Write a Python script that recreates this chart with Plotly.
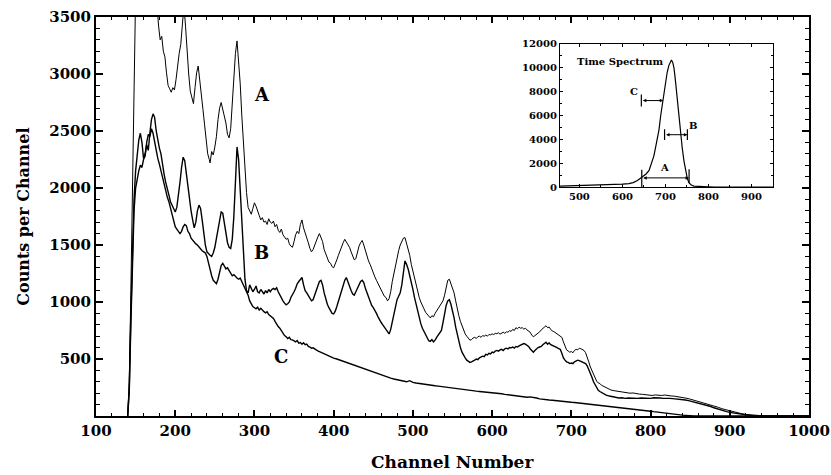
import plotly.graph_objects as go

# ---- spectrum A (channel, counts) ----
a_ch = [140, 142, 144, 146, 148, 150, 155, 165, 174, 177, 179, 181, 183, 185, 187, 189, 191, 193, 195, 197, 199,
        201, 203, 205, 207, 209, 211, 213, 215, 217, 219, 221, 223, 225, 227, 229, 231, 233, 235, 237, 239,
        241, 243, 244, 246, 248, 250, 252, 254, 256, 258, 260, 262, 264, 266, 268, 270, 272, 274, 276, 278,
        280, 282, 284, 286, 288, 290, 292, 294, 296, 298, 300, 302, 304, 306, 308, 310, 312, 314, 316, 318,
        320, 322, 324, 326, 328, 330, 332, 334, 336, 338, 340, 342, 344, 346, 348, 350, 352, 354, 356, 358,
        360, 362, 364, 366, 368, 370, 372, 374, 376, 378, 380, 382, 384, 386, 388, 390, 392, 394, 396, 398,
        400, 402, 404, 406, 408, 410, 412, 414, 416, 418, 420, 422, 424, 426, 428, 430, 432, 434, 436, 438,
        440, 442, 444, 446, 448, 450, 452, 454, 456, 458, 460, 462, 464, 466, 468, 470, 472, 474, 476, 478,
        480, 482, 484, 486, 488, 490, 492, 494, 496, 498, 500, 502, 504, 506, 508, 510, 512, 514, 516, 518,
        520, 522, 524, 526, 528, 530, 532, 534, 536, 538, 540, 542, 544, 546, 548, 550, 552, 554, 556, 558,
        560, 562, 564, 566, 568, 570, 572, 574, 576, 578, 580, 582, 584, 586, 588, 590, 592, 594, 596, 598,
        600, 602, 604, 606, 608, 610, 612, 614, 616, 618, 620, 622, 624, 626, 628, 630, 632, 634, 636, 638,
        640, 642, 644, 646, 648, 650, 652, 654, 656, 658, 660, 662, 664, 666, 668, 670, 672, 674, 676, 678,
        680, 682, 684, 686, 688, 690, 692, 694, 696, 698, 700, 702, 704, 706, 708, 710, 712, 714, 716, 718,
        720, 722, 724, 726, 728, 730, 732, 734, 736, 738, 740, 742, 744, 746, 748, 750, 754, 758, 762, 766,
        770, 774, 778, 782, 786, 790, 794, 798, 802, 806, 810, 814, 818, 822, 826, 830, 834, 838, 842, 846,
        850, 854, 858, 862, 866, 870, 874, 878, 882, 886, 890, 894, 898, 902, 906, 910, 915, 920, 925, 930,
        935, 945, 1000]
a_val = [0, 300, 1100, 2100, 3000, 3700, 4200, 4300, 3900, 3560, 3420, 3300, 3330, 3200, 3150, 3010, 2900, 2870, 2840, 2880, 2860,
         2950, 3080, 3180, 3260, 3420, 3600, 3420, 3150, 3000, 2850, 2780, 2740, 2880, 3010, 3070, 2920, 2800, 2690, 2560, 2400,
         2300, 2250, 2220, 2320, 2290, 2360, 2450, 2600, 2700, 2750, 2690, 2640, 2570, 2470, 2440, 2520, 2760, 2950, 3180, 3290,
         3120, 2920, 2640, 2380, 2140, 1960, 1830, 1800, 1770, 1820, 1870, 1840, 1790, 1760, 1720, 1740, 1700, 1710, 1680, 1730,
         1700, 1690, 1710, 1660, 1680, 1630, 1610, 1640, 1590, 1570, 1550, 1560, 1510, 1490, 1480, 1530, 1590, 1620, 1600, 1680,
         1720, 1650, 1610, 1560, 1520, 1470, 1440, 1460, 1500, 1540, 1570, 1600, 1560, 1530, 1460, 1420, 1380, 1350, 1340, 1310,
         1300, 1330, 1370, 1410, 1450, 1480, 1520, 1550, 1530, 1500, 1480, 1440, 1400, 1370, 1380, 1440, 1490, 1520, 1540, 1500,
         1450, 1420, 1360, 1330, 1290, 1250, 1220, 1190, 1160, 1130, 1100, 1080, 1050, 1040, 1010, 1030, 1090, 1180, 1250, 1330,
         1400, 1450, 1500, 1530, 1560, 1565, 1520, 1470, 1410, 1330, 1270, 1200, 1140, 1090, 1040, 1000, 960, 940, 910, 890,
         870, 860, 880, 870, 900, 920, 940, 960, 980, 1010, 1060, 1120, 1190, 1200, 1160, 1130, 1080, 1010, 930, 880,
         830, 790, 750, 720, 700, 680, 665, 670, 685, 690, 680, 695, 700, 690, 705, 700, 710, 700, 715, 712,
         720, 715, 725, 722, 730, 718, 728, 735, 725, 738, 735, 748, 742, 760, 750, 775, 765, 780, 770, 775,
         762, 770, 755, 748, 735, 710, 695, 705, 715, 730, 738, 755, 770, 780, 792, 775, 780, 760, 745, 740,
         730, 722, 715, 700, 690, 650, 610, 580, 570, 560, 565, 555, 575, 585, 580, 595, 590, 580, 575, 555,
         520, 475, 430, 400, 360, 330, 305, 290, 285, 270, 262, 255, 245, 240, 235, 228, 222, 218, 210, 212,
         205, 200, 202, 195, 192, 190, 186, 184, 180, 185, 182, 180, 184, 178, 176, 174, 170, 168, 160, 155,
         148, 140, 132, 125, 118, 112, 104, 95, 85, 75, 64, 56, 48, 40, 34, 26, 20, 14, 10, 6,
         3, 0, 0]

# ---- spectrum B ----
b_ch = [140, 142, 144, 146, 148, 150, 152, 154, 156, 158, 160, 162, 164, 166, 168, 170, 172, 174, 176, 178,
        180, 182, 184, 186, 188, 190, 192, 194, 196, 198, 200, 202, 204, 206, 208, 210, 212, 214, 216, 218,
        220, 222, 224, 226, 228, 230, 232, 234, 236, 238, 240, 242, 244, 246, 248, 250, 252, 254, 256, 258,
        260, 262, 264, 266, 268, 270, 272, 274, 276, 278, 280, 282, 284, 286, 288, 290, 292, 294, 296, 298,
        300, 302, 304, 306, 308, 310, 312, 314, 316, 318, 320, 322, 324, 326, 328, 330, 332, 334, 336, 338,
        340, 342, 344, 346, 348, 350, 352, 354, 356, 358, 360, 362, 364, 366, 368, 370, 372, 374, 376, 378,
        380, 382, 384, 386, 388, 390, 392, 394, 396, 398, 400, 402, 404, 406, 408, 410, 412, 414, 416, 418,
        420, 422, 424, 426, 428, 430, 432, 434, 436, 438, 440, 442, 444, 446, 448, 450, 452, 454, 456, 458,
        460, 462, 464, 466, 468, 470, 472, 474, 476, 478, 480, 482, 484, 486, 488, 490, 492, 494, 496, 498,
        500, 502, 504, 506, 508, 510, 512, 514, 516, 518, 520, 522, 524, 526, 528, 530, 532, 534, 536, 538,
        540, 542, 544, 546, 548, 550, 552, 554, 556, 558, 560, 562, 564, 566, 568, 570, 572, 574, 576, 578,
        580, 582, 584, 586, 588, 590, 592, 594, 596, 598, 600, 602, 604, 606, 608, 610, 612, 614, 616, 618,
        620, 622, 624, 626, 628, 630, 632, 634, 636, 638, 640, 642, 644, 646, 648, 650, 652, 654, 656, 658,
        660, 662, 664, 666, 668, 670, 672, 674, 676, 678, 680, 682, 684, 686, 688, 690, 692, 694, 696, 698,
        700, 702, 704, 706, 708, 710, 712, 714, 716, 718, 720, 722, 724, 726, 728, 730, 732, 734, 736, 738,
        740, 742, 744, 748, 752, 756, 760, 764, 768, 772, 776, 780, 784, 788, 792, 796, 800, 804, 808, 812,
        816, 820, 824, 828, 832, 836, 840, 844, 848, 852, 856, 860, 864, 868, 872, 876, 880, 884, 888, 892,
        896, 900, 904, 910, 915, 920, 925, 930, 1000]
b_val = [0, 250, 900, 1500, 1900, 2150, 2300, 2420, 2480, 2400, 2260, 2300, 2380, 2330, 2480, 2600, 2650, 2620, 2500, 2420,
         2350, 2300, 2200, 2120, 2050, 1980, 1940, 1880, 1850, 1820, 1790, 1830, 1920, 2050, 2180, 2270, 2240, 2120, 2000, 1890,
         1800, 1720, 1650, 1700, 1800, 1850, 1820, 1720, 1600, 1500, 1440, 1420, 1410, 1400, 1430, 1480, 1560, 1650, 1730, 1790,
         1780, 1700, 1600, 1520, 1480, 1470, 1550, 1750, 2050, 2360, 2250, 2000, 1700, 1400, 1200, 1100, 1080, 1150, 1120, 1090,
         1110, 1140, 1090, 1080, 1110, 1090, 1070, 1100, 1080, 1110, 1090, 1110, 1120, 1110, 1125, 1090, 1060, 1030, 1010, 990,
         975, 985, 1000, 1040, 1060, 1090, 1120, 1160, 1180, 1200, 1215, 1150, 1100, 1080, 1060, 1030, 1010, 1020, 1060, 1100,
         1150, 1180, 1190, 1150, 1080, 1020, 980, 950, 920, 900, 895, 920, 960, 1010, 1060, 1100, 1150, 1190, 1215, 1170,
         1130, 1100, 1070, 1060, 1090, 1120, 1150, 1180, 1190, 1170, 1120, 1080, 1040, 1000, 970, 950, 930, 900, 870, 840,
         820, 800, 780, 760, 740, 720, 760, 830, 900, 960, 1020, 1050, 1080, 1150, 1280, 1360, 1330, 1290, 1230, 1180,
         1110, 1040, 980, 920, 860, 810, 770, 740, 710, 680, 660, 655, 670, 650, 665, 690, 710, 720, 750, 820,
         900, 970, 1010, 1020, 980, 930, 860, 780, 720, 650, 600, 560, 530, 510, 490, 480, 470, 475, 480, 490,
         500, 495, 510, 515, 525, 520, 540, 535, 550, 545, 560, 555, 570, 575, 568, 580, 585, 575, 590, 595,
         588, 600, 598, 605, 595, 610, 605, 615, 620, 628, 635, 630, 620, 610, 590, 570, 560, 575, 590, 600,
         605, 610, 625, 640, 648, 630, 640, 625, 620, 615, 605, 600, 590, 585, 550, 510, 490, 475, 470, 460,
         465, 460, 475, 480, 490, 485, 480, 470, 465, 460, 440, 410, 375, 340, 300, 270, 243, 225, 215, 205,
         195, 188, 183, 175, 170, 162, 158, 160, 155, 158, 157, 152, 155, 158, 155, 157, 155, 160, 156, 158,
         155, 157, 155, 152, 150, 150, 145, 140, 135, 128, 122, 115, 108, 100, 92, 83, 72, 63, 52, 45,
         38, 32, 28, 18, 12, 8, 4, 0, 0]

# ---- spectrum C ----
c_ch = [140, 142, 144, 146, 148, 150, 152, 154, 156, 158, 160, 162, 164, 166, 168, 170, 172, 174, 176, 178,
        180, 182, 184, 186, 188, 190, 192, 194, 196, 198, 200, 202, 204, 206, 208, 210, 212, 214, 216, 218,
        220, 222, 224, 226, 228, 230, 232, 234, 236, 238, 240, 242, 244, 246, 248, 250, 252, 254, 256, 258,
        260, 262, 264, 266, 268, 270, 272, 274, 276, 278, 280, 282, 284, 286, 288, 290, 292, 294, 296, 298,
        300, 302, 304, 306, 308, 310, 312, 314, 316, 318, 320, 322, 324, 326, 328, 330, 332, 334, 336, 338,
        340, 342, 344, 346, 348, 350, 352, 354, 356, 358, 360, 362, 364, 366, 368, 370, 372, 374, 376, 378,
        380, 384, 388, 392, 396, 400, 404, 408, 412, 416, 420, 424, 428, 432, 436, 440, 444, 448, 452, 456,
        460, 464, 468, 472, 476, 480, 484, 488, 492, 496, 500, 504, 508, 512, 516, 520, 524, 528, 532, 536,
        540, 544, 548, 552, 556, 560, 564, 568, 572, 576, 580, 584, 588, 592, 596, 600, 604, 608, 612, 616,
        620, 624, 628, 632, 636, 640, 644, 648, 652, 656, 660, 664, 668, 672, 676, 680, 684, 688, 692, 696,
        700, 704, 708, 712, 716, 720, 724, 728, 732, 736, 740, 744, 748, 752, 756, 760, 764, 768, 772, 776,
        780, 784, 788, 792, 796, 800, 804, 808, 812, 816, 820, 825, 830, 835, 840, 845, 850, 855, 1000]
c_val = [0, 220, 800, 1400, 1800, 2000, 2080, 2150, 2200, 2180, 2250, 2280, 2400, 2470, 2450, 2520, 2480, 2400, 2320, 2260,
         2210, 2150, 2080, 2020, 1960, 1920, 1880, 1830, 1780, 1720, 1660, 1640, 1620, 1600, 1620, 1660, 1680, 1670, 1620, 1600,
         1560, 1540, 1520, 1510, 1500, 1480, 1470, 1450, 1440, 1430, 1400, 1340, 1280, 1230, 1190, 1170, 1160, 1200, 1260, 1320,
         1340, 1310, 1290, 1300, 1280, 1250, 1230, 1240, 1220, 1210, 1200, 1210, 1180, 1150, 1120, 1100, 1060, 1010, 980, 960,
         950, 940, 955, 930, 945, 925, 915, 905, 915, 890, 880, 870, 855, 830, 800, 785, 770, 745, 720, 705,
         695, 680, 690, 670, 668, 660, 650, 662, 640, 645, 630, 642, 625, 630, 610, 605, 595, 598, 585, 580,
         572, 558, 545, 535, 520, 508, 500, 490, 482, 475, 462, 455, 445, 432, 422, 410, 402, 392, 380, 370,
         358, 348, 340, 332, 325, 320, 314, 308, 300, 310, 295, 290, 285, 280, 278, 272, 268, 265, 262, 258,
         252, 250, 245, 242, 238, 232, 230, 228, 225, 222, 218, 215, 213, 210, 206, 204, 200, 198, 195, 190,
         186, 183, 180, 177, 172, 168, 164, 168, 165, 158, 150, 145, 142, 140, 138, 134, 130, 128, 125, 122,
         120, 118, 115, 114, 110, 108, 105, 100, 96, 92, 88, 85, 82, 80, 78, 76, 73, 70, 67, 66,
         62, 58, 54, 50, 46, 42, 38, 34, 30, 28, 25, 20, 16, 12, 8, 5, 2, 0, 0]

# ---- inset: time spectrum ----
t_ch = [455, 480, 510, 540, 570, 600, 615, 625, 635, 645, 655, 662, 668, 673, 677, 681, 685, 689, 692,
        696, 700, 704, 708, 711, 714, 717, 720, 723, 727, 731, 735, 739, 743, 747, 751, 755, 760, 766,
        775, 790, 800, 815, 950]
t_val = [80, 100, 140, 170, 210, 250, 300, 380, 550, 860, 1100, 1400, 2000, 2600, 3300, 4000, 4800, 6000, 6800,
         7700, 8700, 9600, 10200, 10500, 10650, 10450, 9950, 9000, 7500, 6100, 4700, 3300, 2200, 1300, 700, 360, 180, 90,
         60, 40, 20, 0, 0]

x_ticks = [100, 200, 300, 400, 500, 600, 700, 800, 900, 1000]
y_ticks = [500, 1000, 1500, 2000, 2500, 3000, 3500]
inset_x_ticks = [500, 600, 700, 800, 900]
inset_y_ticks = [0, 2000, 4000, 6000, 8000, 10000, 12000]

SERIF = "DejaVu Serif"
INK = "black"

fig = go.Figure()
fig.add_trace(go.Scatter(x=a_ch, y=a_val, mode="lines", line=dict(color=INK, width=1.0), name="A"))
fig.add_trace(go.Scatter(x=b_ch, y=b_val, mode="lines", line=dict(color=INK, width=1.4), name="B"))
fig.add_trace(go.Scatter(x=c_ch, y=c_val, mode="lines", line=dict(color=INK, width=1.4), name="C"))
fig.add_trace(go.Scatter(x=t_ch, y=t_val, mode="lines", line=dict(color=INK, width=1.2),
                         xaxis="x2", yaxis="y2", name="Time Spectrum"))

tick_font = dict(family=SERIF, size=15, color=INK, weight="bold")
small_font = dict(family=SERIF, size=10, color=INK, weight="bold")

fig.update_layout(
    width=831, height=475,
    margin=dict(l=96, r=22, t=15, b=59),
    paper_bgcolor="white", plot_bgcolor="white",
    showlegend=False,
    xaxis=dict(
        range=[100, 1000], tickvals=x_ticks, ticktext=[str(v) for v in x_ticks],
        ticks="inside", ticklen=6, tickwidth=1.5, automargin=False,
        tickcolor=INK, showline=True, linecolor=INK, linewidth=2, mirror="ticks",
        showgrid=False, zeroline=False, tickfont=tick_font,
        minor=dict(ticks="inside", dtick=20, tick0=100, ticklen=3, tickwidth=1.2, tickcolor=INK, showgrid=False),
    ),
    yaxis=dict(
        range=[0, 3500], tickvals=y_ticks, ticktext=[str(v) for v in y_ticks],
        ticks="inside", ticklen=7, tickwidth=1.5, automargin=False,
        tickcolor=INK, showline=True, linecolor=INK, linewidth=2, mirror="ticks",
        showgrid=False, zeroline=False, tickfont=tick_font,
        minor=dict(ticks="inside", dtick=100, tick0=0, ticklen=4, tickwidth=1.2, tickcolor=INK, showgrid=False),
    ),
    xaxis2=dict(
        domain=[0.6508, 0.9495], anchor="y2", range=[455, 950],
        tickvals=inset_x_ticks, ticktext=[str(v) for v in inset_x_ticks],
        ticks="inside", ticklen=3, tickwidth=1, tickcolor=INK, showline=True, linecolor=INK,
        linewidth=1.2, mirror="ticks", showgrid=False, zeroline=False, tickfont=small_font,
        minor=dict(ticks="inside", dtick=50, tick0=500, ticklen=2, tickcolor=INK, showgrid=False),
    ),
    yaxis2=dict(
        domain=[0.5736, 0.9327], anchor="x2", range=[0, 12000],
        tickvals=inset_y_ticks, ticktext=[str(v) for v in inset_y_ticks],
        ticks="inside", ticklen=3, tickwidth=1, tickcolor=INK, showline=True, linecolor=INK,
        linewidth=1.2, mirror="ticks", showgrid=False, zeroline=False, tickfont=small_font,
        minor=dict(ticks="inside", dtick=1000, tick0=0, ticklen=2, tickcolor=INK, showgrid=False),
    ),
)

# axis titles
fig.add_annotation(x=0.5, y=-0.115, xref="paper", yref="paper", yanchor="middle", showarrow=False,
                   text="Channel Number", font=dict(family=SERIF, size=17, color=INK, weight="bold"))
fig.add_annotation(x=-0.102, y=0.5, xref="paper", yref="paper", xanchor="center", showarrow=False,
                   textangle=-90, text="Counts per Channel",
                   font=dict(family=SERIF, size=16, color=INK, weight="bold"))

# white panel behind the inset
fig.add_shape(type="rect", xref="x2 domain", yref="y2 domain", x0=0, x1=1, y0=0, y1=1,
              fillcolor="white", line=dict(width=0), layer="below")

# curve labels on the main spectra
label_font = dict(family=SERIF, size=18, color=INK, weight="bold")
for txt, cx, cy in [("A", 309, 2818), ("B", 309, 1434), ("C", 334, 518)]:
    fig.add_annotation(x=cx, y=cy, xref="x", yref="y", text=txt, showarrow=False, font=label_font)

# inset title
fig.add_annotation(x=0.07, y=0.93, xref="x2 domain", yref="y2 domain", text="Time Spectrum",
                   showarrow=False, xanchor="left", yanchor="top", font=small_font)

# gate windows on the time spectrum: (label, start, end, level, label x, label y, bars)
gates = [
    ("C", 644, 695, 7250, 626, 7975, "left"),
    ("B", 698, 751, 4390, 763, 5140, "both"),
    ("A", 645, 755, 775, 698, 1610, "both"),
]
bar_half = {"C": 500, "B": 450}
for name, g0, g1, lvl, lx, ly, bars in gates:
    fig.add_annotation(x=g1, y=lvl, ax=g0, ay=lvl, xref="x2", yref="y2", axref="x2", ayref="y2",
                       text="", showarrow=True, arrowhead=2, arrowside="end+start",
                       arrowsize=0.7, arrowwidth=1, arrowcolor=INK)
    fig.add_annotation(x=lx, y=ly, xref="x2", yref="y2", text=name, showarrow=False, font=small_font)
    if name == "A":
        fig.add_shape(type="line", xref="x2", yref="y2", x0=g0, x1=g0, y0=0, y1=1450,
                      line=dict(color=INK, width=1.2))
        fig.add_shape(type="line", xref="x2", yref="y2", x0=g1, x1=g1, y0=350, y1=1500,
                      line=dict(color=INK, width=1.2))
    else:
        h = bar_half[name]
        fig.add_shape(type="line", xref="x2", yref="y2", x0=g0, x1=g0, y0=lvl - h, y1=lvl + h,
                      line=dict(color=INK, width=1.2))
        if bars == "both":
            fig.add_shape(type="line", xref="x2", yref="y2", x0=g1, x1=g1, y0=lvl - h, y1=lvl + h,
                          line=dict(color=INK, width=1.2))

fig.write_html("out.html")
